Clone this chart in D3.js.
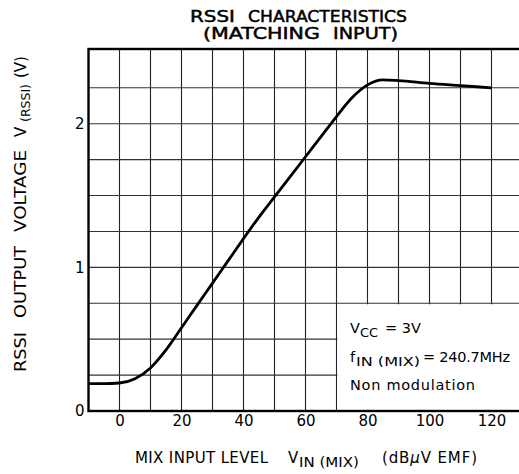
<!DOCTYPE html>
<html><head><meta charset="utf-8">
<script src="https://cdn.jsdelivr.net/npm/d3@7"></script>
<style>
html,body{margin:0;padding:0;background:#fff;}
svg{display:block;font-family:"DejaVu Sans","Noto Sans",sans-serif;}
</style></head>
<body><svg id="c" width="519" height="474"></svg>
<script>
const xTicks = [0, 20, 40, 60, 80, 100, 120];
const yTicks = [0, 1, 2];
const xGrid = [0, 10, 20, 30, 40, 50, 60, 70, 80, 90, 100, 110, 120];
const yGrid = [0.25, 0.5, 0.75, 1, 1.25, 1.5, 1.75, 2, 2.25];
const inputLevel = [-10, -5, 0, 5, 10, 15, 20, 25, 30, 35, 40, 45, 50, 55, 60, 65, 70, 75, 80, 85, 90, 100, 110, 120];
const rssiVolt   = [0.19, 0.19, 0.195, 0.225, 0.30, 0.425, 0.58, 0.735, 0.89, 1.045, 1.20, 1.35, 1.49, 1.63, 1.77, 1.91, 2.05, 2.18, 2.27, 2.305, 2.30, 2.28, 2.265, 2.25];

const svg = d3.select("#c");
const x = d3.scaleLinear().domain([-10, 130]).range([88.5, 522.5]);
const y = d3.scaleLinear().domain([0, 2.52]).range([411, 49]);

// grid
svg.append("g").selectAll("line").data(xGrid).join("line")
  .attr("x1", d => x(d)).attr("x2", d => x(d)).attr("y1", y(0)).attr("y2", y(2.52))
  .attr("stroke", "#222").attr("stroke-width", 1.1);
svg.append("g").selectAll("line").data(yGrid).join("line")
  .attr("x1", x(-10)).attr("x2", x(130)).attr("y1", d => y(d)).attr("y2", d => y(d))
  .attr("stroke", "#333").attr("stroke-width", 1.1);

// annotation box (white, hides grid)
svg.append("rect").attr("x", x(70) + 1).attr("y", y(0.75) + 1)
  .attr("width", x(130) - x(70)).attr("height", y(0) - y(0.75) - 2).attr("fill", "#fff");

// frame
svg.append("rect").attr("x", x(-10)).attr("y", y(2.52)).attr("width", x(130) - x(-10)).attr("height", y(0) - y(2.52))
  .attr("fill", "none").attr("stroke", "#000").attr("stroke-width", 2.4);

// curve
const line = d3.line().x((d, i) => x(inputLevel[i])).y(d => y(d)).curve(d3.curveMonotoneX);
svg.append("path").datum(rssiVolt).attr("d", line).attr("fill", "none")
  .attr("stroke", "#000").attr("stroke-width", 2.8).attr("stroke-linejoin", "round");

// axes tick labels
const xAxis = d3.axisBottom(x).tickValues(xTicks).tickSize(0).tickPadding(4);
const gx = svg.append("g").attr("transform", `translate(0,${y(0)})`).call(xAxis);
gx.select(".domain").remove();
gx.selectAll("text").attr("font-size", 15).attr("fill", "#000").attr("font-family", "DejaVu Sans");

const yAxis = d3.axisLeft(y).tickValues(yTicks).tickSize(0).tickPadding(4).tickFormat(d3.format("d"));
const gy = svg.append("g").attr("transform", `translate(${x(-10)},0)`).call(yAxis);
gy.select(".domain").remove();
gy.selectAll("text").attr("font-size", 15).attr("fill", "#000").attr("font-family", "DejaVu Sans");

// title
const tg = svg.append("g").attr("font-size", 15).attr("stroke", "#000").attr("stroke-width", 0.45);
tg.append("text").attr("x", 190).attr("y", 21.5).attr("textLength", 45).attr("lengthAdjust", "spacingAndGlyphs").text("RSSI");
tg.append("text").attr("x", 248).attr("y", 21.5).attr("textLength", 159).attr("lengthAdjust", "spacingAndGlyphs").text("CHARACTERISTICS");
tg.append("text").attr("x", 203).attr("y", 39).attr("textLength", 117).attr("lengthAdjust", "spacingAndGlyphs").text("(MATCHING");
tg.append("text").attr("x", 333).attr("y", 39).attr("textLength", 65).attr("lengthAdjust", "spacingAndGlyphs").text("INPUT)");

// x-axis title
const xg = svg.append("g").attr("font-size", 15);
xg.append("text").attr("x", 135).attr("y", 463).attr("textLength", 133).attr("lengthAdjust", "spacing").text("MIX INPUT LEVEL");
xg.append("text").attr("x", 288).attr("y", 463).text("V");
xg.append("text").attr("x", 299).attr("y", 467).attr("font-size", 14).attr("textLength", 60).attr("lengthAdjust", "spacingAndGlyphs").text("IN (MIX)");
const xu = xg.append("text").attr("x", 382).attr("y", 463).attr("textLength", 95).attr("lengthAdjust", "spacing");
xu.append("tspan").text("(dB");
xu.append("tspan").attr("font-style", "italic").text("μ");
xu.append("tspan").text("V EMF)");

// y-axis title (rotated)
const yg = svg.append("g").attr("font-size", 15);
yg.append("text").attr("transform", "translate(26,372) rotate(-90)").attr("textLength", 40).attr("lengthAdjust", "spacingAndGlyphs").text("RSSI");
yg.append("text").attr("transform", "translate(26,318) rotate(-90)").attr("textLength", 72).attr("lengthAdjust", "spacingAndGlyphs").text("OUTPUT");
yg.append("text").attr("transform", "translate(26,232) rotate(-90)").attr("textLength", 82).attr("lengthAdjust", "spacingAndGlyphs").text("VOLTAGE");
yg.append("text").attr("transform", "translate(26,137) rotate(-90)").text("V");
yg.append("text").attr("transform", "translate(30,122) rotate(-90)").attr("font-size", 13).attr("textLength", 38).attr("lengthAdjust", "spacingAndGlyphs").text("(RSSI)");
yg.append("text").attr("transform", "translate(26,78) rotate(-90)").text("(V)");

// annotation
const ann = svg.append("g").attr("font-size", 14.5);
ann.append("text").attr("x", 350).attr("y", 333).text("V");
ann.append("text").attr("x", 360).attr("y", 337).attr("font-size", 13).text("CC");
ann.append("text").attr("x", 385).attr("y", 333).text("= 3V");
ann.append("text").attr("x", 350).attr("y", 362).text("f");
ann.append("text").attr("x", 356).attr("y", 366).attr("font-size", 13).attr("textLength", 64).attr("lengthAdjust", "spacingAndGlyphs").text("IN (MIX)");
ann.append("text").attr("x", 423).attr("y", 362).attr("textLength", 87).attr("lengthAdjust", "spacing").text("= 240.7MHz");
ann.append("text").attr("x", 350).attr("y", 390).attr("textLength", 125).attr("lengthAdjust", "spacing").text("Non modulation");
</script></body></html>
